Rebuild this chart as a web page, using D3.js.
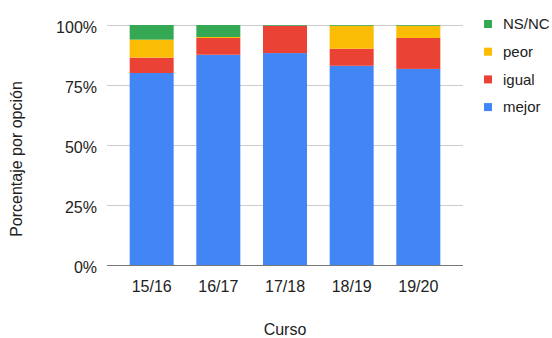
<!DOCTYPE html>
<html>
<head>
<meta charset="utf-8">
<script src="https://cdn.jsdelivr.net/npm/d3@7"></script>
<style>
  html, body { margin: 0; padding: 0; background: #fff; }
  svg { display: block; font-family: Arial, "Liberation Sans", sans-serif; }
</style>
</head>
<body>
<svg id="chart" width="552" height="338"></svg>
<script>
// Courses on the x axis
const cursos = ["15/16", "16/17", "17/18", "18/19", "19/20"];
// Share of answers per option (percent), stacked bottom to top
const mejor = [80.0, 87.6, 88.3, 83.0, 81.7];
const igual = [6.4, 7.0, 11.4, 7.1, 12.9];
const peor  = [7.5, 0.4, 0.0, 9.6, 5.1];
const nsnc  = [6.1, 5.0, 0.3, 0.3, 0.3];
const yTicks = [0, 25, 50, 75, 100];

const seriesNames = ["mejor", "igual", "peor", "NS/NC"];
const seriesValues = [mejor, igual, peor, nsnc];
const colors = { "mejor": "#4285F4", "igual": "#EA4335", "peor": "#FBBC04", "NS/NC": "#34A853" };

const rows = cursos.map((c, i) => {
  const r = { curso: c };
  seriesNames.forEach((s, k) => { r[s] = seriesValues[k][i]; });
  return r;
});
const stacked = d3.stack().keys(seriesNames)(rows);

const svg = d3.select("#chart");
const plotLeft = 107, plotRight = 463, plotTop = 25, plotBottom = 265;

const x = d3.scaleBand().domain(cursos).range([plotLeft, plotRight])
  .paddingInner(0.34).paddingOuter(0.34);
const y = d3.scaleLinear().domain([0, 100]).range([plotBottom, plotTop]);

// Gridlines
svg.append("g").selectAll("line").data(yTicks.filter(t => t > 0)).join("line")
  .attr("x1", plotLeft).attr("x2", plotRight)
  .attr("y1", d => Math.round(y(d)) + 0.5).attr("y2", d => Math.round(y(d)) + 0.5)
  .attr("stroke", "#cccccc").attr("stroke-width", 1);

// Stacked bars
svg.append("g").selectAll("g").data(stacked).join("g")
  .attr("fill", d => colors[d.key])
  .selectAll("rect").data(d => d).join("rect")
  .attr("x", d => x(d.data.curso))
  .attr("width", x.bandwidth())
  .attr("y", d => y(d[1]))
  .attr("height", d => Math.max(0, y(d[0]) - y(d[1])));

// Baseline
svg.append("line")
  .attr("x1", plotLeft).attr("x2", plotRight)
  .attr("y1", plotBottom + 0.5).attr("y2", plotBottom + 0.5)
  .attr("stroke", "#777777").attr("stroke-width", 1);

// Y tick labels
svg.append("g").selectAll("text").data(yTicks).join("text")
  .attr("x", 97).attr("y", d => y(d) + 8)
  .attr("text-anchor", "end")
  .attr("font-size", 16).attr("fill", "#222")
  .text(d => d + "%");

// X tick labels
const xAxis = d3.axisBottom(x).tickSize(0).tickPadding(0);
const gx = svg.append("g").attr("transform", `translate(0,${plotBottom})`).call(xAxis);
gx.select(".domain").remove();
gx.selectAll("text")
  .attr("dy", null).attr("y", 26.5)
  .attr("font-size", 16).attr("fill", "#222")
  .attr("font-family", "Arial, 'Liberation Sans', sans-serif");

// Axis titles
svg.append("text")
  .attr("x", (plotLeft + plotRight) / 2).attr("y", 335)
  .attr("text-anchor", "middle").attr("font-size", 16).attr("fill", "#222")
  .text("Curso");
svg.append("text")
  .attr("transform", "translate(22,159) rotate(-90)")
  .attr("text-anchor", "middle").attr("font-size", 16).attr("fill", "#222")
  .text("Porcentaje por opción");

// Legend (top to bottom: NS/NC, peor, igual, mejor)
const legendKeys = seriesNames.slice().reverse();
const lg = svg.append("g").selectAll("g").data(legendKeys).join("g")
  .attr("transform", (d, i) => `translate(484,${24 + i * 27.7})`);
lg.append("rect").attr("x", 0).attr("y", -4).attr("width", 8).attr("height", 8)
  .attr("fill", d => colors[d]);
lg.append("text").attr("x", 19).attr("y", 5.3)
  .attr("font-size", 15).attr("fill", "#222")
  .text(d => d);
</script>
</body>
</html>
